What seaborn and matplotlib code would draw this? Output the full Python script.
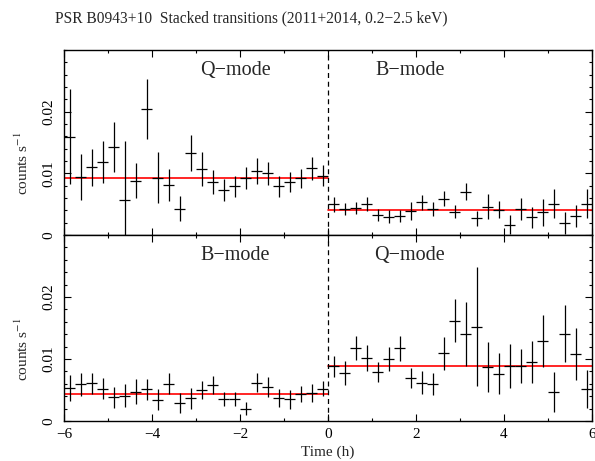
import matplotlib
matplotlib.use('Agg')
import matplotlib.pyplot as plt
from matplotlib.ticker import MultipleLocator, FixedLocator, FuncFormatter
import seaborn as sns

sns.set_style('ticks')
plt.rcParams['font.family'] = ['Liberation Serif', 'DejaVu Serif']
plt.rcParams['mathtext.fontset'] = 'stix'

# 15-min bin centres (hours from transition)
t_pre = [-5.875, -5.625, -5.375, -5.125, -4.875, -4.625, -4.375, -4.125,
         -3.875, -3.625, -3.375, -3.125, -2.875, -2.625, -2.375, -2.125,
         -1.875, -1.625, -1.375, -1.125, -0.875, -0.625, -0.375, -0.125]
t_post = [0.125, 0.375, 0.625, 0.875, 1.125, 1.375, 1.625, 1.875,
          2.125, 2.375, 2.625, 2.875, 3.125, 3.375, 3.625, 3.875,
          4.125, 4.375, 4.625, 4.875, 5.125, 5.375, 5.625, 5.875]
half_bin = 0.125

# top: Q-mode -> B-mode
top_q_rate = [0.0159, 0.0094, 0.0110, 0.0119, 0.0143, 0.0056, 0.0088, 0.0204,
              0.0093, 0.0081, 0.0043, 0.0133, 0.0107, 0.0086, 0.0073, 0.0079,
              0.0092, 0.0104, 0.0100, 0.0079, 0.0086, 0.0092, 0.0108, 0.0096]
top_q_err = [0.0077, 0.0038, 0.0030, 0.0034, 0.0041, 0.0097, 0.0028, 0.0049,
             0.0041, 0.0026, 0.0021, 0.0029, 0.0028, 0.0020, 0.0018, 0.0017,
             0.0018, 0.0021, 0.0019, 0.0017, 0.0016, 0.0015, 0.0019, 0.0017]
top_b_rate = [0.0050, 0.0042, 0.0044, 0.0050, 0.0032, 0.0030, 0.0031, 0.0039,
              0.0053, 0.0042, 0.0059, 0.0038, 0.0070, 0.0027, 0.0046, 0.0041,
              0.0017, 0.0042, 0.0029, 0.0037, 0.0051, 0.0020, 0.0031, 0.0051]
top_b_err = [0.0012, 0.0010, 0.0010, 0.0011, 0.0010, 0.0010, 0.0010, 0.0014,
             0.0012, 0.0011, 0.0012, 0.0011, 0.0014, 0.0012, 0.0020, 0.0014,
             0.0016, 0.0018, 0.0017, 0.0022, 0.0024, 0.0018, 0.0018, 0.0023]

# bottom: B-mode -> Q-mode
bot_b_rate = [0.0053, 0.0059, 0.0061, 0.0052, 0.0038, 0.0041, 0.0047, 0.0051,
              0.0034, 0.0060, 0.0029, 0.0037, 0.0050, 0.0058, 0.0035, 0.0035,
              0.0020, 0.0062, 0.0055, 0.0037, 0.0035, 0.0043, 0.0045, 0.0052]
bot_b_err = [0.0021, 0.0018, 0.0017, 0.0017, 0.0017, 0.0018, 0.0020, 0.0017,
             0.0017, 0.0017, 0.0016, 0.0017, 0.0015, 0.0015, 0.0011, 0.0011,
             0.0010, 0.0016, 0.0016, 0.0015, 0.0015, 0.0013, 0.0015, 0.0012]
bot_q_rate = [0.0088, 0.0077, 0.0118, 0.0101, 0.0079, 0.0100, 0.0117, 0.0069,
              0.0062, 0.0060, 0.0109, 0.0162, 0.0140, 0.0152, 0.0087, 0.0076,
              0.0089, 0.0089, 0.0095, 0.0129, 0.0047, 0.0141, 0.0108, 0.0052]
bot_q_err = [0.0017, 0.0019, 0.0019, 0.0021, 0.0016, 0.0019, 0.0020, 0.0016,
             0.0018, 0.0018, 0.0027, 0.0034, 0.0052, 0.0096, 0.0041, 0.0033,
             0.0035, 0.0027, 0.0034, 0.0042, 0.0032, 0.0046, 0.0042, 0.0031]

# constant model levels (pre, post)
top_fit = [0.0092, 0.0040]
bot_fit = [0.0043, 0.0088]

title = 'PSR B0943+10  Stacked transitions (2011+2014, 0.2\u22122.5 keV)'

fig = plt.figure(figsize=(5.95, 4.61), dpi=100)
ax1 = fig.add_axes([0.1076, 0.4902, 0.8874, 0.4013])
ax2 = fig.add_axes([0.1076, 0.0868, 0.8874, 0.4034], sharex=ax1)

panels = [
    (ax1, top_q_rate, top_q_err, top_b_rate, top_b_err, top_fit, ('Q\u2212mode', 'B\u2212mode')),
    (ax2, bot_b_rate, bot_b_err, bot_q_rate, bot_q_err, bot_fit, ('B\u2212mode', 'Q\u2212mode')),
]

for ax, r1, e1, r2, e2, fit, labels in panels:
    sns.lineplot(x=[-6, 0], y=[fit[0], fit[0]], ax=ax, color='red', lw=1.2, zorder=1)
    sns.lineplot(x=[0, 6], y=[fit[1], fit[1]], ax=ax, color='red', lw=1.2, zorder=1)
    ax.errorbar(t_pre, r1, xerr=half_bin, yerr=e1, fmt='none', ecolor='black',
                elinewidth=0.9, capsize=0, zorder=2)
    ax.errorbar(t_post, r2, xerr=half_bin, yerr=e2, fmt='none', ecolor='black',
                elinewidth=0.9, capsize=0, zorder=2)
    ax.axvline(0, color='black', lw=0.9, ls=(0, (4, 3)), zorder=3)

    ax.set_xlim(-6, 6)
    ax.set_ylim(0, 0.03)
    ax.xaxis.set_major_locator(MultipleLocator(2))
    ax.xaxis.set_minor_locator(MultipleLocator(1))
    ax.yaxis.set_major_locator(FixedLocator([0, 0.01, 0.02]))
    ax.yaxis.set_minor_locator(MultipleLocator(0.002))
    ax.yaxis.set_major_formatter(FuncFormatter(lambda v, _: '0' if abs(v) < 1e-9 else f'{v:.2f}'))
    ax.tick_params(which='both', direction='in', top=True, right=True, width=0.8,
                   labelsize=11, colors='black')
    ax.tick_params(which='major', length=5)
    ax.tick_params(which='minor', length=2.5)
    ax.tick_params(axis='y', labelrotation=90, pad=6)
    ax.tick_params(axis='x', pad=5)
    for lab in ax.get_yticklabels():
        lab.set_va('center')
    for sp in ax.spines.values():
        sp.set_linewidth(1.0)
        sp.set_color('black')
    ax.set_ylabel('counts s$^{-1}$', fontsize=11)
    ax.yaxis.set_label_coords(-0.062, 0.385)
    ax.set_xlabel('')

    ax.text(0.324, 0.89, labels[0], transform=ax.transAxes, ha='center', va='center', fontsize=14.5)
    ax.text(0.655, 0.89, labels[1], transform=ax.transAxes, ha='center', va='center', fontsize=14.5)

ax1.tick_params(axis='x', labelbottom=False)
ax2.set_xlabel('Time (h)', fontsize=11, labelpad=3)

fig.text(55 / 595, 0.96, title, ha='left', va='center', fontsize=11.2)

fig.savefig('out.png', dpi=100)
